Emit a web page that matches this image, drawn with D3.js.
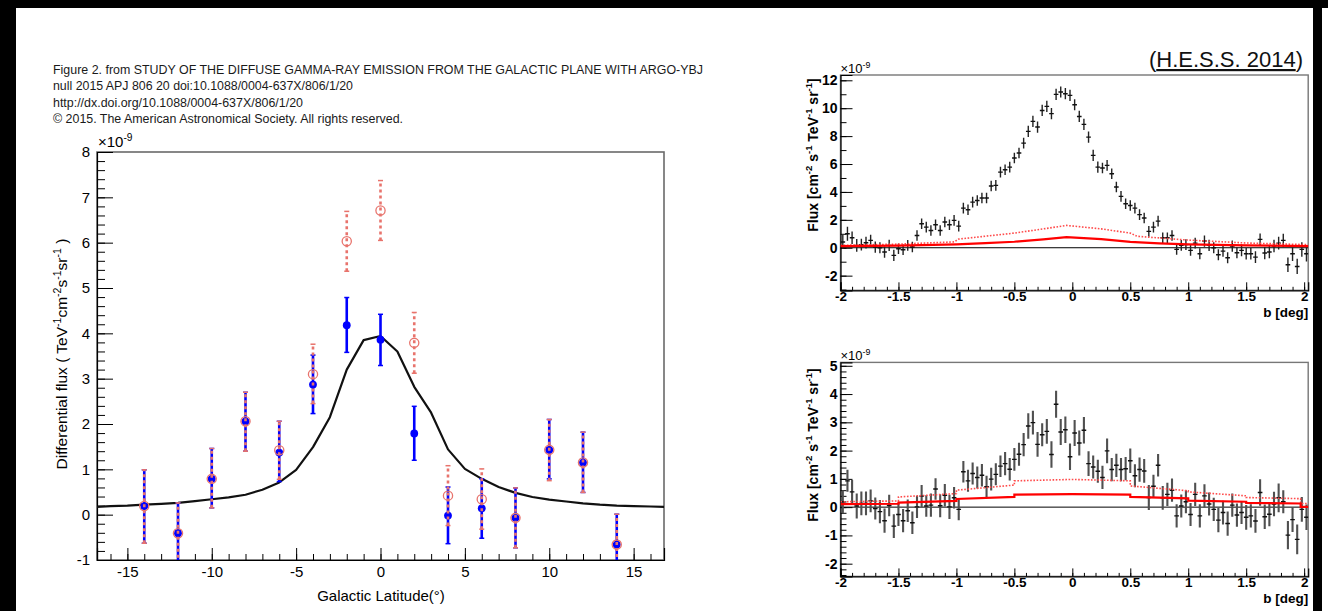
<!DOCTYPE html>
<html>
<head>
<meta charset="utf-8">
<script src="https://cdn.jsdelivr.net/npm/d3@7"></script>
<style>
  body { margin: 0; background: #fff; }
  svg { display: block; font-family: "Liberation Sans", Arial, Helvetica, sans-serif; }
</style>
</head>
<body>
<script>
// ---- ARGO-YBJ latitude profile (left panel) ----
var argoLat  = [-14, -12, -10, -8, -6, -4, -2, 0, 2, 4, 6, 8, 10, 12, 14];
var blueFlux = [0.19, -0.41, 0.79, 2.06, 1.37, 2.87, 4.18, 3.86, 1.79, -0.02, 0.14, -0.07, 1.43, 1.15, -0.66];
var blueHi   = [0.99, 0.26, 1.46, 2.70, 2.06, 3.52, 4.79, 4.42, 2.39, 0.61, 0.79, 0.59, 2.10, 1.82, 0.01];
var blueLo   = [-0.63, -1.08, 0.15, 1.40, 0.73, 2.23, 3.58, 3.29, 1.20, -0.64, -0.52, -0.73, 0.79, 0.49, -1.33];
var redFlux  = [0.19, -0.41, 0.79, 2.06, 1.42, 3.10, 6.03, 6.71, 3.79, 0.42, 0.34, -0.07, 1.43, 1.15, -0.66];
var redHi    = [0.99, 0.26, 1.46, 2.70, 2.06, 3.76, 6.69, 7.37, 4.46, 1.08, 1.01, 0.59, 2.10, 1.82, 0.01];
var redLo    = [-0.63, -1.08, 0.15, 1.40, 0.78, 2.45, 5.37, 6.05, 3.12, -0.24, -0.32, -0.73, 0.75, 0.49, -1.33];
var modelLat = [-17, -16, -15, -14, -13, -12, -11, -10, -9, -8, -7, -6, -5, -4, -3, -2, -1, 0,
                1, 2, 3, 4, 5, 6, 7, 8, 9, 10, 11, 12, 13, 14, 15, 16, 17];
var modelFlux = [0.17, 0.19, 0.20, 0.22, 0.24, 0.26, 0.30, 0.34, 0.38, 0.44, 0.55, 0.71, 0.99, 1.49, 2.15, 3.20, 3.85, 3.94,
                 3.60, 2.82, 2.25, 1.44, 1.01, 0.79, 0.61, 0.48, 0.39, 0.33, 0.29, 0.25, 0.22, 0.20, 0.19, 0.18, 0.17];
var argoXTicks = [-15, -10, -5, 0, 5, 10, 15];
var argoYTicks = [-1, 0, 1, 2, 3, 4, 5, 6, 7, 8];

// ---- H.E.S.S. 2014 profiles (right panels) ----
var hessLat = [-1.98,-1.94,-1.90,-1.86,-1.82,-1.78,-1.74,-1.70,-1.66,-1.62,
  -1.58,-1.54,-1.50,-1.46,-1.42,-1.38,-1.34,-1.30,-1.26,-1.22,
  -1.18,-1.14,-1.10,-1.06,-1.02,-0.98,-0.94,-0.90,-0.86,-0.82,
  -0.78,-0.74,-0.70,-0.66,-0.62,-0.58,-0.54,-0.50,-0.46,-0.42,
  -0.38,-0.34,-0.30,-0.26,-0.22,-0.18,-0.14,-0.10,-0.06,-0.02,
  0.02,0.06,0.10,0.14,0.18,0.22,0.26,0.30,0.34,0.38,
  0.42,0.46,0.50,0.54,0.58,0.62,0.66,0.70,0.74,0.78,
  0.82,0.86,0.90,0.94,0.98,1.02,1.06,1.10,1.14,1.18,
  1.22,1.26,1.30,1.34,1.38,1.42,1.46,1.50,1.54,1.58,
  1.62,1.66,1.70,1.74,1.78,1.82,1.86,1.90,1.94,1.98,
  2.02];
var hessTopFlux = [0.41,1.00,0.72,0.17,0.22,0.36,0.53,0.05,0.00,-0.31,
  0.17,-0.55,-0.07,-0.14,0.17,0.05,0.88,1.72,1.48,1.24,
  1.65,1.24,1.84,1.65,1.96,1.55,2.84,2.72,3.27,3.39,
  3.56,3.56,4.42,4.47,5.42,5.59,5.78,6.43,6.79,7.50,
  8.34,9.06,8.65,9.84,10.13,9.61,10.99,11.16,11.04,10.92,
  10.25,9.41,8.84,7.93,6.62,5.78,5.71,5.90,5.30,4.35,
  3.68,3.15,3.03,2.84,2.37,2.13,1.17,1.48,1.91,0.72,
  0.72,0.88,-0.12,0.17,0.22,-0.19,0.33,-0.43,0.48,0.17,
  0.00,-0.50,-0.24,-0.72,0.12,-0.36,-0.19,-0.43,-0.43,-0.67,
  0.60,-0.38,-0.31,0.12,0.33,0.53,-1.22,-0.43,-1.34,-0.12,
  -0.43];
var hessTopErr = [0.50,0.50,0.45,0.45,0.42,0.42,0.40,0.40,0.40,0.40,
  0.40,0.40,0.38,0.38,0.38,0.38,0.38,0.38,0.38,0.38,
  0.38,0.38,0.38,0.38,0.38,0.38,0.38,0.38,0.38,0.38,
  0.38,0.38,0.38,0.38,0.38,0.38,0.38,0.38,0.38,0.38,
  0.40,0.40,0.40,0.40,0.40,0.40,0.40,0.40,0.40,0.40,
  0.40,0.40,0.40,0.40,0.40,0.40,0.38,0.38,0.38,0.38,
  0.38,0.38,0.38,0.38,0.38,0.38,0.38,0.38,0.38,0.38,
  0.38,0.38,0.38,0.38,0.38,0.38,0.38,0.40,0.40,0.40,
  0.40,0.40,0.40,0.40,0.40,0.40,0.42,0.42,0.42,0.42,
  0.42,0.44,0.44,0.45,0.45,0.48,0.52,0.52,0.55,0.52,
  0.55];
var hessBotFlux = [0.19,0.93,0.54,0.04,0.13,0.13,0.22,-0.05,-0.16,-0.48,
  0.06,-0.67,-0.26,-0.48,-0.13,-0.55,0.01,0.39,0.04,0.07,
  0.64,0.05,0.42,0.01,0.33,-0.08,1.25,0.93,1.19,1.05,
  1.13,0.72,0.99,1.16,1.45,1.54,1.34,1.69,1.87,2.21,
  2.87,2.99,2.22,2.56,2.68,1.86,3.64,2.66,2.74,1.78,
  2.62,2.27,2.72,1.54,1.42,1.27,1.05,1.99,1.33,1.48,
  1.33,1.36,1.64,1.11,1.33,1.28,0.34,0.74,1.48,0.33,
  0.45,0.60,-0.31,0.04,0.19,-0.26,0.45,-0.31,0.40,0.11,
  -0.08,-0.46,-0.19,-0.58,0.07,-0.28,-0.19,-0.36,-0.31,-0.49,
  0.52,-0.34,-0.25,0.11,0.33,0.19,-0.99,-0.44,-1.14,-0.08,
  -0.36];
var hessBotErr = [0.40,0.39,0.42,0.44,0.42,0.42,0.40,0.39,0.41,0.43,
  0.38,0.42,0.41,0.41,0.40,0.40,0.39,0.39,0.38,0.41,
  0.38,0.41,0.40,0.43,0.38,0.38,0.38,0.39,0.39,0.39,
  0.40,0.39,0.40,0.39,0.38,0.41,0.40,0.40,0.41,0.41,
  0.45,0.42,0.44,0.41,0.44,0.47,0.48,0.46,0.47,0.47,
  0.46,0.44,0.47,0.44,0.41,0.41,0.41,0.44,0.41,0.41,
  0.41,0.41,0.43,0.41,0.43,0.42,0.44,0.41,0.40,0.42,
  0.41,0.41,0.41,0.41,0.41,0.41,0.41,0.41,0.41,0.41,
  0.41,0.43,0.42,0.43,0.41,0.41,0.41,0.44,0.41,0.42,
  0.47,0.43,0.43,0.43,0.51,0.41,0.50,0.44,0.53,0.44,
  0.45];
// model curves (solid = red line, dotted = red dotted line)
var topModelLat   = [-2.0, -1.5, -1.0, -0.75, -0.5, -0.25, -0.05, 0.25, 0.5, 0.75, 1.0, 1.5, 2.04];
var topSolid      = [0.12, 0.15, 0.24, 0.33, 0.43, 0.60, 0.76, 0.62, 0.42, 0.31, 0.24, 0.17, 0.12];
var topDotLat     = [-2.0, -1.5, -1.02, -0.98, -0.5, -0.25, -0.05, 0.25, 0.5, 0.56, 1.0, 1.5, 2.04];
var topDotted     = [0.17, 0.26, 0.42, 0.62, 1.05, 1.35, 1.60, 1.35, 1.05, 0.82, 0.55, 0.34, 0.22];
var botModelLat   = [-2.0, -1.5, -1.5, -1.0, -1.0, -0.5, -0.5, 0.0, 0.5, 0.5, 1.0, 1.0, 1.5, 1.5, 1.97, 1.97, 2.04];
var botSolid      = [0.11, 0.12, 0.16, 0.22, 0.29, 0.36, 0.44, 0.46, 0.44, 0.36, 0.31, 0.23, 0.19, 0.15, 0.13, 0.01, 0.01];
var botDotted     = [0.19, 0.22, 0.36, 0.48, 0.60, 0.78, 0.93, 0.98, 0.93, 0.75, 0.58, 0.54, 0.40, 0.34, 0.30, 0.13, 0.13];
var hessXTicks = [-2, -1.5, -1, -0.5, 0, 0.5, 1, 1.5, 2];
var topYTicks  = [-2, 0, 2, 4, 6, 8, 10, 12];
var botYTicks  = [-2, -1, 0, 1, 2, 3, 4, 5];

var headerLines = [
  "Figure 2. from STUDY OF THE DIFFUSE GAMMA-RAY EMISSION FROM THE GALACTIC PLANE WITH ARGO-YBJ",
  "null 2015 APJ 806 20 doi:10.1088/0004-637X/806/1/20",
  "http://dx.doi.org/10.1088/0004-637X/806/1/20",
  "\u00a9 2015. The American Astronomical Society. All rights reserved."
];
var headerWidths = [650, 300, 250, 350];

// setup
var W = 1328, H = 611,
    svg = d3.select("body").append("svg").attr("width", W).attr("height", H),
    defs = svg.append("defs");

svg.append("rect").attr("width", W).attr("height", H).attr("fill", "#fff");
// black frame of the slide
svg.append("rect").attr("x", 0).attr("y", 0).attr("width", W).attr("height", 8).attr("fill", "#000");
svg.append("rect").attr("x", 0).attr("y", 0).attr("width", 16).attr("height", H).attr("fill", "#000");
svg.append("rect").attr("x", 1313).attr("y", 0).attr("width", 9).attr("height", H).attr("fill", "#000");

// writes text with superscripts: parts = [[str, isSup], ...]
function richText(t, parts, size){
  var shift = 0;
  parts.forEach(function(p){
    var target = p[1] ? -size * 0.42 : 0;
    var ts = t.append("tspan").text(p[0]).attr("dy", target - shift);
    if(p[1]) ts.attr("font-size", size * 0.68);
    shift = target;
  });
}

function styleAxis(g, size, weight){
  g.attr("font-family", null).attr("font-size", size).attr("font-weight", weight);
  g.selectAll("line").attr("stroke", "#000");
  g.selectAll("text").attr("fill", "#000");
}

// header
headerLines.forEach(function(s, i){
  svg.append("text").attr("x", 53).attr("y", 74 + i * 16.4)
     .attr("font-family", "'Liberation Sans Narrow', 'Arial Narrow', 'Liberation Sans', sans-serif")
     .attr("font-size", 12).attr("fill", "#1a1a1a")
     .attr("textLength", headerWidths[i]).attr("lengthAdjust", "spacingAndGlyphs")
     .text(s);
});

// ================= left panel =================
var L = {x0: 97, x1: 664, y0: 152, y1: 560};
var lx = d3.scaleLinear().domain([-16.8, 16.8]).range([L.x0, L.x1]),
    ly = d3.scaleLinear().domain([-1, 8]).range([L.y1, L.y0]);

defs.append("clipPath").attr("id", "clipL").append("rect")
    .attr("x", L.x0).attr("y", L.y0).attr("width", L.x1 - L.x0).attr("height", L.y1 - L.y0);

var left = svg.append("g").attr("class", "argo");
left.append("rect").attr("x", L.x0).attr("y", L.y0).attr("width", L.x1 - L.x0).attr("height", L.y1 - L.y0)
    .attr("fill", "none").attr("stroke", "#6a6a6a").attr("stroke-width", 1.6);

var fmt = function(d){ return String(d); };

var gxm = left.append("g").attr("transform", "translate(0," + L.y1 + ")")
   .call(d3.axisBottom(lx).tickValues(d3.range(-16, 17, 1)).tickSize(-6).tickFormat(""));
gxm.select(".domain").remove();
styleAxis(gxm, 15, "normal");
var gx = left.append("g").attr("transform", "translate(0," + L.y1 + ")")
   .call(d3.axisBottom(lx).tickValues(argoXTicks).tickSize(-12).tickPadding(6).tickFormat(fmt));
gx.select(".domain").attr("stroke", "#000").attr("stroke-width", 1.2);
styleAxis(gx, 15, "normal");

var gym = left.append("g").attr("transform", "translate(" + L.x0 + ",0)")
   .call(d3.axisLeft(ly).tickValues(d3.range(-1, 8.01, 0.2)).tickSize(-8).tickFormat(""));
gym.select(".domain").remove();
styleAxis(gym, 15, "normal");
var gy = left.append("g").attr("transform", "translate(" + L.x0 + ",0)")
   .call(d3.axisLeft(ly).tickValues(argoYTicks).tickSize(-16).tickPadding(7).tickFormat(fmt));
gy.select(".domain").attr("stroke", "#000").attr("stroke-width", 1.2);
styleAxis(gy, 15, "normal");

richText(left.append("text").attr("x", L.x0 + 1).attr("y", 147).attr("font-size", 15),
         [["\u00d710", false], ["-9", true]], 15);

richText(left.append("text").attr("transform", "translate(67,354) rotate(-90)")
           .attr("text-anchor", "middle").attr("font-size", 15.5),
         [["Differential flux ( TeV", false], ["-1", true], ["cm", false], ["-2", true],
          ["s", false], ["-1", true], ["sr", false], ["-1", true], [" )", false]], 15.5);

left.append("text").attr("x", 381).attr("y", 601).attr("text-anchor", "middle")
    .attr("font-size", 15).text("Galactic Latitude(\u00b0)");

var pl = left.append("g").attr("clip-path", "url(#clipL)");

// model curve
pl.append("path").datum(modelLat)
  .attr("fill", "none").attr("stroke", "#111").attr("stroke-width", 2.2).attr("stroke-linejoin", "round")
  .attr("d", d3.line().x(function(d){ return lx(d); }).y(function(d, i){ return ly(modelFlux[i]); }));

var blue = "#0000ff", salmon = "#e8736c";

// blue points (solid error bars)
pl.selectAll(".bbar").data(argoLat).enter().append("line").attr("class", "bbar")
  .attr("x1", function(d){ return lx(d); }).attr("x2", function(d){ return lx(d); })
  .attr("y1", function(d, i){ return ly(blueLo[i]); }).attr("y2", function(d, i){ return ly(blueHi[i]); })
  .attr("stroke", blue).attr("stroke-width", 2.6);
[blueLo, blueHi].forEach(function(arr){
  pl.selectAll(null).data(argoLat).enter().append("line")
    .attr("x1", function(d){ return lx(d) - 2.5; }).attr("x2", function(d){ return lx(d) + 2.5; })
    .attr("y1", function(d, i){ return ly(arr[i]); }).attr("y2", function(d, i){ return ly(arr[i]); })
    .attr("stroke", blue).attr("stroke-width", 1.5);
});
pl.selectAll(".bdot").data(argoLat).enter().append("circle").attr("class", "bdot")
  .attr("cx", function(d){ return lx(d); }).attr("cy", function(d, i){ return ly(blueFlux[i]); })
  .attr("r", 3.9).attr("fill", blue);

// red points (dashed error bars, open circles)
pl.selectAll(".rbar").data(argoLat).enter().append("line").attr("class", "rbar")
  .attr("x1", function(d){ return lx(d); }).attr("x2", function(d){ return lx(d); })
  .attr("y1", function(d, i){ return ly(redLo[i]); }).attr("y2", function(d, i){ return ly(redHi[i]); })
  .attr("stroke", salmon).attr("stroke-width", 2.6).attr("stroke-dasharray", "3,3");
[redLo, redHi].forEach(function(arr){
  pl.selectAll(null).data(argoLat).enter().append("line")
    .attr("x1", function(d){ return lx(d) - 2.5; }).attr("x2", function(d){ return lx(d) + 2.5; })
    .attr("y1", function(d, i){ return ly(arr[i]); }).attr("y2", function(d, i){ return ly(arr[i]); })
    .attr("stroke", salmon).attr("stroke-width", 1.5);
});
pl.selectAll(".rdot").data(argoLat).enter().append("circle").attr("class", "rdot")
  .attr("cx", function(d){ return lx(d); }).attr("cy", function(d, i){ return ly(redFlux[i]); })
  .attr("r", 4.6).attr("fill", "none").attr("stroke", salmon).attr("stroke-width", 1.3);

// ================= right panels =================
var rx = d3.scaleLinear().domain([-2, 2.035]).range([840.5, 1308.2]);

function hessPanel(cfg){
  var y = cfg.y, top = y.range()[1], bot = y.range()[0],
      x0 = rx.range()[0], x1 = rx.range()[1],
      g = svg.append("g");

  defs.append("clipPath").attr("id", cfg.id).append("rect")
      .attr("x", x0).attr("y", top).attr("width", x1 - x0).attr("height", bot - top);

  g.append("rect").attr("x", x0).attr("y", top).attr("width", x1 - x0).attr("height", bot - top)
   .attr("fill", "none").attr("stroke", "#777").attr("stroke-width", 1.4);

  var a1 = g.append("g").attr("transform", "translate(0," + bot + ")")
     .call(d3.axisBottom(rx).tickValues(d3.range(-2, 2.001, 0.1)).tickSize(-3.5).tickFormat(""));
  a1.select(".domain").remove(); styleAxis(a1, 13.5, "bold");
  var a2 = g.append("g").attr("transform", "translate(0," + bot + ")")
     .call(d3.axisBottom(rx).tickValues(hessXTicks).tickSize(-8).tickPadding(1).tickFormat(fmt));
  a2.select(".domain").attr("stroke", "#000").attr("stroke-width", 1.2); styleAxis(a2, 13.5, "bold");

  var a3 = g.append("g").attr("transform", "translate(" + x0 + ",0)")
     .call(d3.axisLeft(y).tickValues(cfg.minorY).tickSize(-6).tickFormat(""));
  a3.select(".domain").remove(); styleAxis(a3, 14, "bold");
  var a4 = g.append("g").attr("transform", "translate(" + x0 + ",0)")
     .call(d3.axisLeft(y).tickValues(cfg.majorY).tickSize(-12).tickPadding(3).tickFormat(fmt));
  a4.select(".domain").attr("stroke", "#000").attr("stroke-width", 1.2); styleAxis(a4, 14, "bold");

  richText(g.append("text").attr("x", x0).attr("y", top - 2).attr("font-size", 13),
           [["\u00d710", false], ["-9", true]], 13);
  richText(g.append("text").attr("transform", "translate(818," + cfg.titleY + ") rotate(-90)")
             .attr("text-anchor", "middle").attr("font-size", 14).attr("font-weight", "bold"),
           [["Flux [cm", false], ["-2", true], [" s", false], ["-1", true], [" TeV", false], ["-1", true],
            [" sr", false], ["-1", true], ["]", false]], 14);
  g.append("text").attr("x", x1).attr("y", bot + 26.5).attr("text-anchor", "end")
   .attr("font-size", 13.5).attr("font-weight", "bold").text("b [deg]");

  var p = g.append("g").attr("clip-path", "url(#" + cfg.id + ")");
  p.append("line").attr("x1", x0).attr("x2", x1).attr("y1", y(0)).attr("y2", y(0))
   .attr("stroke", "#000").attr("stroke-width", 1);

  // data crosses
  p.selectAll(".ev").data(hessLat).enter().append("line").attr("class", "ev")
   .attr("x1", function(d){ return rx(d); }).attr("x2", function(d){ return rx(d); })
   .attr("y1", function(d, i){ return y(cfg.flux[i] - cfg.err[i]); })
   .attr("y2", function(d, i){ return y(cfg.flux[i] + cfg.err[i]); })
   .attr("stroke", cfg.barColor).attr("stroke-width", cfg.barWidth);
  p.selectAll(".eh").data(hessLat).enter().append("line").attr("class", "eh")
   .attr("x1", function(d){ return rx(d - 0.02); }).attr("x2", function(d){ return rx(d + 0.02); })
   .attr("y1", function(d, i){ return y(cfg.flux[i]); }).attr("y2", function(d, i){ return y(cfg.flux[i]); })
   .attr("stroke", "#111").attr("stroke-width", 1.4);

  // model lines
  p.append("path").datum(cfg.dotLat)
   .attr("fill", "none").attr("stroke", "#ff4b4b").attr("stroke-width", 1.6).attr("stroke-dasharray", "1.6,1.6")
   .attr("d", d3.line().x(function(d){ return rx(d); }).y(function(d, i){ return y(cfg.dotted[i]); }));
  p.append("path").datum(cfg.solidLat)
   .attr("fill", "none").attr("stroke", "#ff0000").attr("stroke-width", 2.2)
   .attr("d", d3.line().x(function(d){ return rx(d); }).y(function(d, i){ return y(cfg.solid[i]); }));
}

hessPanel({
  id: "clipT", y: d3.scaleLinear().domain([-3.05, 12.38]).range([290.3, 75]),
  majorY: topYTicks, minorY: d3.range(-3, 12.01, 1), titleY: 155,
  flux: hessTopFlux, err: hessTopErr, barColor: "#222", barWidth: 1.4,
  solidLat: topModelLat, solid: topSolid, dotLat: topDotLat, dotted: topDotted
});
hessPanel({
  id: "clipB", y: d3.scaleLinear().domain([-2.45, 5.12]).range([576.4, 362.4]),
  majorY: botYTicks, minorY: d3.range(-2.4, 5.01, 0.2), titleY: 445,
  flux: hessBotFlux, err: hessBotErr, barColor: "#505050", barWidth: 2.1,
  solidLat: botModelLat, solid: botSolid, dotLat: botModelLat, dotted: botDotted
});

// citation label
var cite = svg.append("text").attr("x", 1303).attr("y", 67).attr("text-anchor", "end")
    .attr("font-size", 22).attr("fill", "#111");
cite.append("tspan").text("(");
cite.append("tspan").attr("text-decoration", "underline").text("H.E.S.S. 2014");
cite.append("tspan").text(")");
</script>
</body>
</html>
